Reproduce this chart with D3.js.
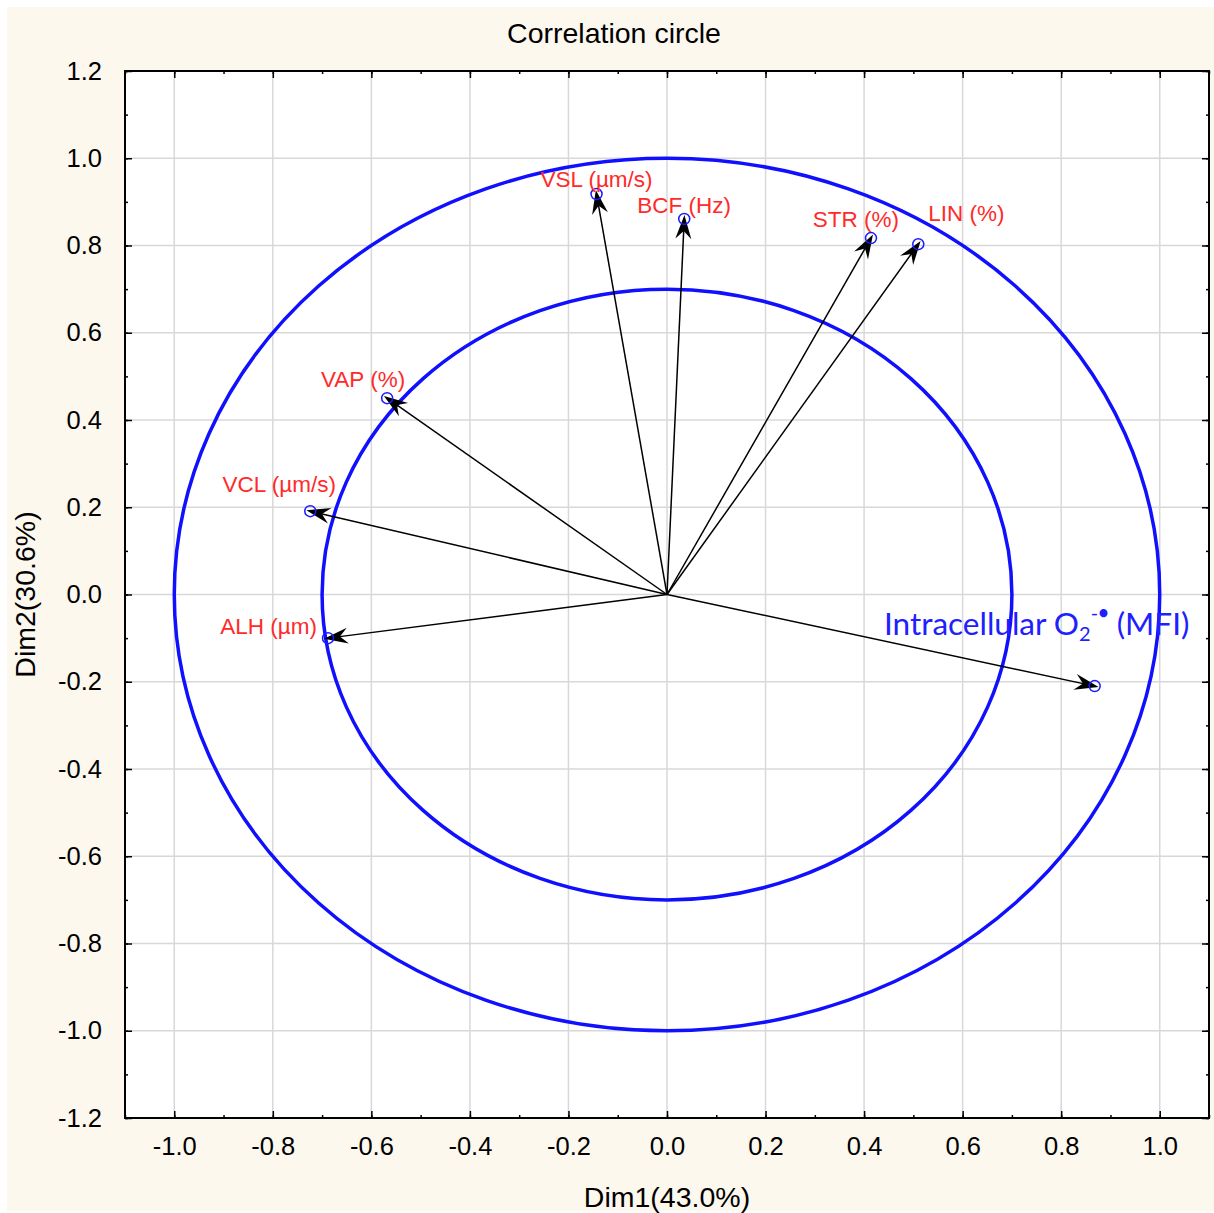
<!DOCTYPE html>
<html>
<head>
<meta charset="utf-8">
<script src="https://cdn.jsdelivr.net/npm/d3@7"></script>
<style>
  html, body { margin: 0; padding: 0; background: #ffffff; }
  svg { display: block; }
</style>
</head>
<body>
<svg id="chart" width="1214" height="1213"></svg>
<script>
// Variable loadings on the first two principal dimensions
const variables = ["VSL (µm/s)", "BCF (Hz)", "STR (%)", "LIN (%)", "VAP (%)", "VCL (µm/s)", "ALH (µm)", "O2"];
const dim1 = [-0.143, 0.035, 0.414, 0.510, -0.568, -0.724, -0.688, 0.868];
const dim2 = [0.918, 0.861, 0.817, 0.803, 0.450, 0.191, -0.100, -0.210];

// Reference circles (radius in correlation units)
const circleRadii = [1.0, 0.7];

// Tick values
const xTicks = [-1.0, -0.8, -0.6, -0.4, -0.2, 0.0, 0.2, 0.4, 0.6, 0.8, 1.0];
const yTicks = [-1.2, -1.0, -0.8, -0.6, -0.4, -0.2, 0.0, 0.2, 0.4, 0.6, 0.8, 1.0, 1.2];

// Label placement relative to each arrow tip (pixels)
const labelLayout = [
  { dx: 0,   dy: -7,  anchor: "middle" },
  { dx: 0,   dy: -6,  anchor: "middle" },
  { dx: -15, dy: -11, anchor: "middle" },
  { dx: 10,  dy: -23, anchor: "start" },
  { dx: -24, dy: -11, anchor: "middle" },
  { dx: -31, dy: -19, anchor: "middle" },
  { dx: -11, dy: -4,  anchor: "end" },
  { dx: -58, dy: -51, anchor: "middle" }
];

const svg = d3.select("#chart");
const W = 1214, H = 1213;
const plot = { left: 125, right: 1209, top: 71, bottom: 1118 };

// page background
svg.append("rect").attr("x", 7).attr("y", 7).attr("width", W - 7).attr("height", H - 9)
  .attr("fill", "#fdf8ee");

const x = d3.scaleLinear().domain([-1.1, 1.1]).range([plot.left, plot.right]);
const y = d3.scaleLinear().domain([-1.2, 1.2]).range([plot.bottom, plot.top]);

svg.append("rect")
  .attr("x", plot.left).attr("y", plot.top)
  .attr("width", plot.right - plot.left).attr("height", plot.bottom - plot.top)
  .attr("fill", "#ffffff");

// grid
const grid = svg.append("g").attr("stroke", "#d8d8d8").attr("stroke-width", 1.5);
grid.selectAll("line.vx").data(xTicks).join("line")
  .attr("x1", d => x(d)).attr("x2", d => x(d))
  .attr("y1", plot.top).attr("y2", plot.bottom);
grid.selectAll("line.hy").data(yTicks.slice(1, -1)).join("line")
  .attr("y1", d => y(d)).attr("y2", d => y(d))
  .attr("x1", plot.left).attr("x2", plot.right);

// axes with inward ticks on all four sides; plain hyphen for negatives
const fmt = d => d.toFixed(1);
const xMinor = d3.range(-1.1, 1.1001, 0.1).map(v => +v.toFixed(2));
const yMinor = d3.range(-1.2, 1.2001, 0.1).map(v => +v.toFixed(2));

function styleAxis(g) {
  g.select(".domain").remove();
  g.selectAll(".tick line").attr("stroke", "#000").attr("stroke-width", 1.5);
  g.selectAll(".tick text").attr("fill", "#000")
    .attr("font-family", "Liberation Sans, Arial, sans-serif").attr("font-size", 25.5);
}

// minor ticks
[["bottom", plot.bottom], ["top", plot.top]].forEach(([side, pos]) => {
  const ax = (side === "bottom" ? d3.axisBottom(x) : d3.axisTop(x))
    .tickValues(xMinor).tickSize(-3).tickFormat("");
  svg.append("g").attr("transform", `translate(0,${pos})`).call(ax).call(styleAxis);
});
[["left", plot.left], ["right", plot.right]].forEach(([side, pos]) => {
  const ax = (side === "left" ? d3.axisLeft(y) : d3.axisRight(y))
    .tickValues(yMinor).tickSize(-3).tickFormat("");
  svg.append("g").attr("transform", `translate(${pos},0)`).call(ax).call(styleAxis);
});

// major ticks with labels
svg.append("g").attr("transform", `translate(0,${plot.bottom})`)
  .call(d3.axisBottom(x).tickValues(xTicks).tickSize(-7).tickPadding(19).tickFormat(fmt))
  .call(styleAxis);
svg.append("g").attr("transform", `translate(0,${plot.top})`)
  .call(d3.axisTop(x).tickValues(xTicks).tickSize(-7).tickFormat(""))
  .call(styleAxis);
svg.append("g").attr("transform", `translate(${plot.left},0)`)
  .call(d3.axisLeft(y).tickValues(yTicks).tickSize(-7).tickPadding(23).tickFormat(fmt))
  .call(styleAxis);
svg.append("g").attr("transform", `translate(${plot.right},0)`)
  .call(d3.axisRight(y).tickValues(yTicks).tickSize(-7).tickFormat(""))
  .call(styleAxis);

// frame
svg.append("rect")
  .attr("x", plot.left).attr("y", plot.top)
  .attr("width", plot.right - plot.left).attr("height", plot.bottom - plot.top)
  .attr("fill", "none").attr("stroke", "#000").attr("stroke-width", 2);

// correlation circles
svg.selectAll("ellipse.ref").data(circleRadii).join("ellipse")
  .attr("cx", x(0)).attr("cy", y(0))
  .attr("rx", d => x(d) - x(0)).attr("ry", d => y(0) - y(d))
  .attr("fill", "none").attr("stroke", "#1010ff").attr("stroke-width", 3.5);

// arrowhead
svg.append("defs").append("marker")
  .attr("id", "head").attr("markerUnits", "userSpaceOnUse")
  .attr("viewBox", "-26 -10 28 20").attr("refX", -4).attr("refY", 0)
  .attr("markerWidth", 28).attr("markerHeight", 20).attr("orient", "auto")
  .append("path").attr("d", "M0,0 L-24,-8 L-16,0 L-24,8 Z").attr("fill", "#000");

const items = variables.map((v, i) => ({ name: v, x: dim1[i], y: dim2[i], lay: labelLayout[i] }));

svg.append("g").selectAll("line").data(items).join("line")
  .attr("x1", x(0)).attr("y1", y(0))
  .attr("x2", d => x(d.x)).attr("y2", d => y(d.y))
  .attr("stroke", "#000").attr("stroke-width", 1.5)
  .attr("marker-end", "url(#head)");

svg.append("g").selectAll("circle").data(items).join("circle")
  .attr("cx", d => x(d.x)).attr("cy", d => y(d.y)).attr("r", 5.5)
  .attr("fill", "none").attr("stroke", "#1a1aff").attr("stroke-width", 1.5);

// labels
const labels = svg.append("g");
items.forEach(d => {
  const t = labels.append("text")
    .attr("x", x(d.x) + d.lay.dx).attr("y", y(d.y) + d.lay.dy)
    .attr("text-anchor", d.lay.anchor);
  if (d.name === "O2") {
    t.attr("font-family", "Lato, 'Open Sans', sans-serif").attr("font-size", 31.5).attr("fill", "#2020ff");
    t.append("tspan").text("Intracellular O");
    t.append("tspan").attr("font-size", 20).attr("dy", 6).text("2");
    t.append("tspan").attr("font-size", 20).attr("dy", -21).text("-");
    t.append("tspan").attr("font-size", 18).attr("font-weight", "bold").attr("dy", -1).text("•");
    t.append("tspan").attr("dy", 16).text(" (MFI)");
  } else {
    t.attr("font-family", "Liberation Sans, Arial, sans-serif").attr("font-size", 22.5)
      .attr("fill", "#ff2a2a").text(d.name);
  }
});

// titles
const titleFont = { family: "Liberation Sans, Arial, sans-serif", size: 28.5 };
svg.append("text").attr("x", 614).attr("y", 43).attr("text-anchor", "middle")
  .attr("font-family", titleFont.family).attr("font-size", titleFont.size)
  .attr("fill", "#000").text("Correlation circle");
svg.append("text").attr("x", x(0)).attr("y", 1207).attr("text-anchor", "middle")
  .attr("font-family", titleFont.family).attr("font-size", titleFont.size)
  .attr("fill", "#000").text("Dim1(43.0%)");
svg.append("text").attr("transform", `translate(35,${y(0)}) rotate(-90)`)
  .attr("text-anchor", "middle")
  .attr("font-family", titleFont.family).attr("font-size", titleFont.size)
  .attr("fill", "#000").text("Dim2(30.6%)");
</script>
</body>
</html>
